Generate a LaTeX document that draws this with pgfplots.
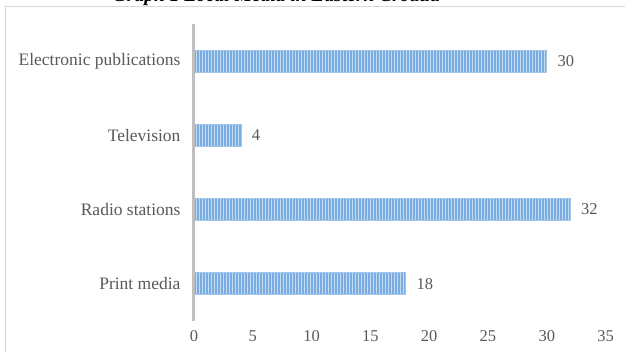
\documentclass[border=0pt]{standalone}
\usepackage{pgfplots}
\pgfplotsset{compat=1.18}
\usepackage{fontspec}
\setmainfont{Liberation Serif}
\usetikzlibrary{patterns.meta}

\definecolor{barfill}{RGB}{196,220,242}
\definecolor{barstripe}{RGB}{122,172,226}
\definecolor{baredge}{RGB}{160,198,234}
\definecolor{txt}{RGB}{89,89,89}
\definecolor{axisgray}{RGB}{191,191,191}
\definecolor{framegray}{RGB}{217,217,217}

\begin{document}
\begin{tikzpicture}[x=1pt,y=1pt]
\useasboundingbox (0,0) rectangle (625,352);
% chart frame
\draw[framegray, line width=1pt] (5.5,-10) -- (5.5,345) -- (640,345);
% title
\node[anchor=base, font=\fontsize{19.5}{22}\selectfont\bfseries\itshape, inner sep=0pt]
  at (276.5,350) {Graph 1 Local Media in Eastern Croatia};
\begin{axis}[
  at={(194pt,31pt)}, anchor=south west,
  scale only axis, width=411.6pt, height=297pt,
  xbar, bar width=22pt,
  xmin=0, xmax=35, ymin=-0.5, ymax=3.5,
  xtick={0,5,...,35},
  ytick={0,1,2,3},
  yticklabels={Print media,Radio stations,Television,Electronic publications},
  axis x line=bottom,
  axis y line=left,
  axis on top,
  x axis line style={draw=none},
  y axis line style={draw=axisgray, line width=3pt, -},
  major tick length=0pt,
  /pgf/number format/assume math mode=true,
  ticklabel style={font=\fontsize{16.5}{19}\selectfont, text=txt},
  yticklabel style={font=\fontsize{17.5}{20}\selectfont, xshift=-10pt},
  xticklabel style={yshift=-6pt},
  nodes near coords,
  nodes near coords style={font=\fontsize{16.5}{19}\selectfont, text=txt, xshift=7pt},
  clip=false,
]
\addplot[fill=barfill, draw=baredge, line width=1pt,
  postaction={pattern={Lines[angle=90,distance=3pt,line width=1.1pt]}, pattern color=barstripe}]
  coordinates {(18,0) (32,1) (4,2) (30,3)};
\end{axis}
\end{tikzpicture}
\end{document}
